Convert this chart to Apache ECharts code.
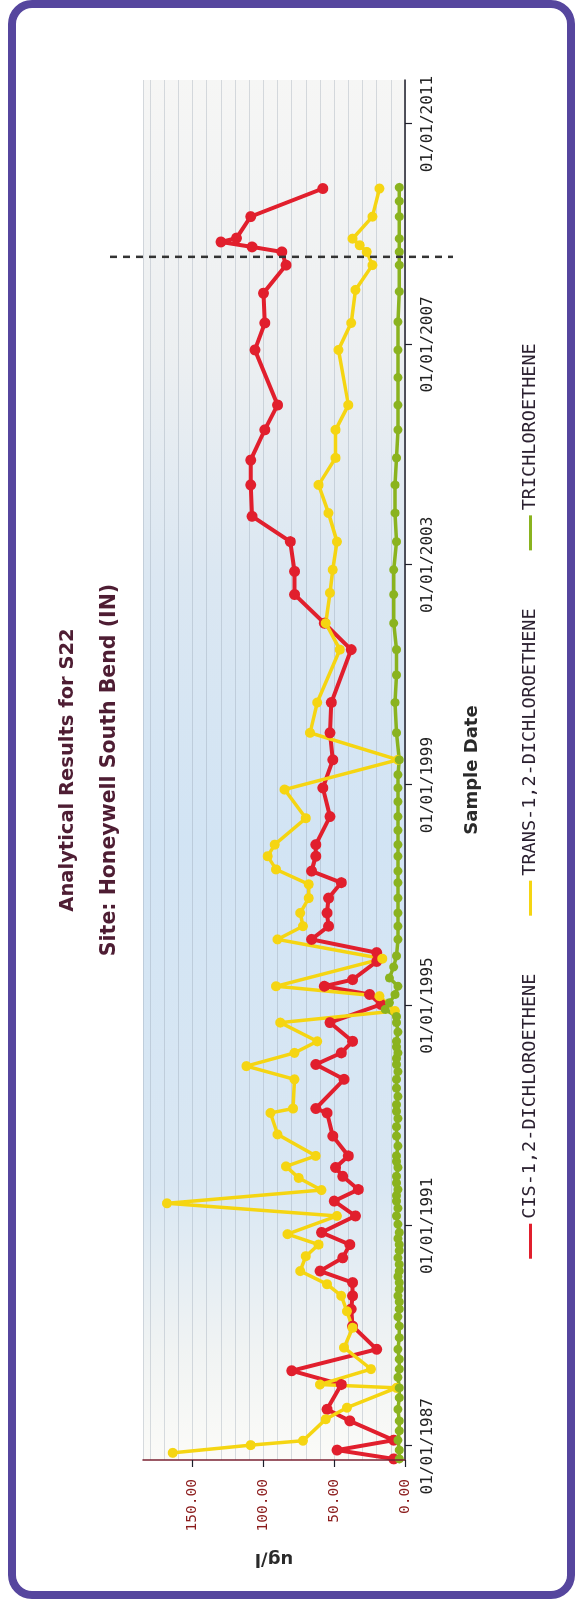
<!DOCTYPE html>
<html>
<head>
<meta charset="utf-8">
<script src="https://cdn.jsdelivr.net/npm/echarts@6/dist/echarts.min.js"></script>
<style>
html,body{margin:0;padding:0;background:#ffffff;width:577px;height:1602px;overflow:hidden;}
#chart{position:absolute;left:0;top:0;width:1602px;height:577px;transform-origin:0 0;transform:translate(0px,1602px) rotate(-90deg);}
</style>
</head>
<body>
<div id="chart"></div>
<script>
// ---- data (dates as decimal years) ----
const dateTicks = [1987, 1991, 1995, 1999, 2003, 2007, 2011];
const dateTickLabels = ['01/01/1987','01/01/1991','01/01/1995','01/01/1999','01/01/2003','01/01/2007','01/01/2011'];
const valueTicks = [0, 50, 100, 150];
const valueTickLabels = ['0.00','50.00','100.00','150.00'];
const seriesNames = ['CIS-1,2-DICHLOROETHENE','TRANS-1,2-DICHLOROETHENE','TRICHLOROETHENE'];
const markerDate = [2008.59];

const cisData = [
[1986.77,8],[1986.93,48],[1987.11,8],[1987.46,39],[1987.67,55],[1988.12,45],[1988.37,80],[1988.76,20],
[1989.18,37],[1989.49,38],[1989.73,37],[1989.97,37],[1990.18,60],[1990.42,44],[1990.66,39],[1990.88,59],
[1991.18,35],[1991.45,50],[1991.66,33],[1991.90,44],[1992.06,49],[1992.27,40],[1992.63,51],[1993.05,55],
[1993.13,63],[1993.66,43],[1993.93,63],[1994.14,45],[1994.35,37],[1994.69,53],[1995.02,17],[1995.20,25],
[1995.35,57],[1995.47,37],[1995.80,20],[1995.96,20],[1996.20,66],[1996.44,54],[1996.68,55],[1996.95,54],
[1997.23,45],[1997.44,66],[1997.71,63],[1997.92,63],[1998.43,53],[1998.95,58],[1999.46,51],[1999.95,53],
[2000.50,52],[2001.46,38],[2001.94,57],[2002.46,78],[2002.88,78],[2003.42,81],[2003.88,108],[2004.45,109],
[2004.90,109],[2005.45,99],[2005.90,90],[2006.90,106],[2007.39,99],[2007.93,100],[2008.44,84],[2008.68,87],
[2008.77,108],[2008.86,130],[2008.93,119],[2009.32,109],[2009.83,58]
];

const transData = [
[1986.88,164],[1987.02,109],[1987.10,72],[1987.49,56],[1987.70,41],[1988.06,6],[1988.12,60],[1988.40,24],
[1988.79,43],[1989.15,37],[1989.45,41],[1989.73,45],[1989.94,55],[1990.18,74],[1990.45,70],[1990.66,61],
[1990.85,83],[1991.18,48],[1991.41,168],[1991.65,59],[1991.87,75],[1992.08,84],[1992.27,63],[1992.66,90],
[1993.05,95],[1993.13,79],[1993.66,78],[1993.90,112],[1994.14,78],[1994.35,62],[1994.69,88],[1994.90,7],
[1995.17,18],[1995.35,91],[1995.85,16],[1996.20,90],[1996.44,72],[1996.68,74],[1996.95,68],[1997.20,68],
[1997.47,91],[1997.71,97],[1997.92,92],[1998.40,70],[1998.92,85],[1999.46,5],[1999.95,67],[2000.50,62],
[2001.46,46],[2001.94,56],[2002.49,53],[2002.91,51],[2003.42,48],[2003.94,54],[2004.45,61],[2004.94,49],
[2005.45,49],[2005.90,40],[2006.90,47],[2007.39,38],[2007.99,35],[2008.44,23],[2008.68,27],[2008.80,32],
[2008.92,37],[2009.32,23],[2009.83,18]
];

const triData = [
[1986.77,4],[1986.93,4],[1987.11,5],[1987.28,4],[1987.46,4],[1987.67,5],[1987.88,4],[1988.06,4],
[1988.25,5],[1988.40,4],[1988.58,4],[1988.76,5],[1988.97,4],[1989.18,4],[1989.35,5],[1989.49,4],
[1989.62,4],[1989.73,5],[1989.85,4],[1989.97,4],[1990.08,5],[1990.18,4],[1990.30,4],[1990.42,5],
[1990.55,4],[1990.66,4],[1990.77,5],[1990.88,4],[1991.03,5],[1991.18,6],[1991.32,5],[1991.45,6],
[1991.55,6],[1991.66,5],[1991.78,6],[1991.90,6],[1992.06,5],[1992.17,6],[1992.27,6],[1992.45,5],
[1992.63,6],[1992.80,6],[1992.95,5],[1993.08,6],[1993.20,6],[1993.35,5],[1993.50,6],[1993.66,6],
[1993.80,5],[1993.93,6],[1994.04,6],[1994.14,5],[1994.25,6],[1994.35,6],[1994.52,5],[1994.69,6],
[1994.80,6],[1994.93,14],[1995.05,11],[1995.20,7],[1995.35,5],[1995.50,11],[1995.70,8],[1995.90,6],
[1996.20,5],[1996.44,5],[1996.68,5],[1996.95,5],[1997.23,5],[1997.44,5],[1997.71,5],[1997.92,5],
[1998.18,5],[1998.43,5],[1998.70,5],[1998.95,5],[1999.19,5],[1999.46,4],[1999.95,6],[2000.50,7],
[2001.00,6],[2001.46,6],[2001.94,8],[2002.46,8],[2002.91,8],[2003.42,6],[2003.94,7],[2004.45,7],
[2004.94,6],[2005.45,5],[2005.90,5],[2006.40,5],[2006.90,5],[2007.41,5],[2007.96,4],[2008.44,4],
[2008.68,4],[2008.92,4],[2009.32,4],[2009.60,4],[2009.85,4]
];

const chart = echarts.init(document.getElementById('chart'), null, {renderer:'canvas'});

const monoFont = "'DejaVu Sans Mono', 'Liberation Mono', monospace";
const sansFont = "'DejaVu Sans', Verdana, sans-serif";
const colors = ['#e11f2d', '#f5d512', '#8ab31f'];

const option = {
  animation: false,
  backgroundColor: '#ffffff',
  title: [
    {text: 'Analytical Results for S22', left: 832, top: 58, textAlign: 'center', padding: 0,
     textStyle: {fontFamily: sansFont, fontWeight: 'bold', fontSize: 19.5, color: '#4e1d33'}},
    {text: 'Site: Honeywell South Bend (IN)', left: 832, top: 99, textAlign: 'center', padding: 0,
     textStyle: {fontFamily: sansFont, fontWeight: 'bold', fontSize: 20.5, color: '#4e1d33'}}
  ],
  legend: {
    data: seriesNames.map(n => ({name: n, icon: 'rect'})),
    left: 'center', top: 521, padding: 0,
    itemWidth: 35, itemHeight: 3, itemGap: 58,
    textStyle: {fontFamily: monoFont, fontSize: 18.5, color: '#2b2030'}
  },
  grid: {
    left: 142, right: 80, top: 143, bottom: 172, show: true, borderWidth: 0,
    backgroundColor: new echarts.graphic.LinearGradient(0, 0, 1, 0, [
      {offset: 0, color: '#fbfbf8'},
      {offset: 0.08, color: '#f0f3f3'},
      {offset: 0.2, color: '#d9e7f3'},
      {offset: 0.45, color: '#d2e4f4'},
      {offset: 0.64, color: '#dbe7f2'},
      {offset: 0.8, color: '#eceff1'},
      {offset: 1, color: '#f6f6f5'}
    ])
  },
  xAxis: {
    type: 'value', min: 1986.75, max: 2011.8, position: 'bottom',
    axisLine: {show: true, onZero: false, lineStyle: {color: '#1e1e2a', width: 1.5}},
    axisTick: {show: true, customValues: dateTicks, length: 7, lineStyle: {color: '#1e1e2a', width: 1.2}},
    axisLabel: {customValues: dateTicks, margin: 15,
      formatter: v => dateTickLabels[dateTicks.indexOf(Math.round(v))] || '',
      fontFamily: monoFont, fontSize: 16, color: '#222'},
    splitLine: {show: false},
    name: 'Sample Date', nameLocation: 'middle', nameGap: 58,
    nameTextStyle: {fontFamily: sansFont, fontWeight: 'bold', fontSize: 18, color: '#2a2a2a'}
  },
  yAxis: [
    {
      type: 'value', min: 0, max: 185, interval: 10, position: 'left', z: 4,
      axisLine: {show: true, onZero: false, lineStyle: {color: '#7a2232', width: 1.5}},
      axisTick: {show: true, customValues: valueTicks, length: 7, lineStyle: {color: '#1e1e2a', width: 1.2}},
      axisLabel: {customValues: valueTicks, margin: 19,
        formatter: v => valueTickLabels[valueTicks.indexOf(Math.round(v))] || '',
        fontFamily: monoFont, fontSize: 14.5, color: '#8b1c1c'},
      splitLine: {show: false},
      name: 'ug/l', nameLocation: 'middle', nameRotate: 90, nameGap: 90,
      nameTextStyle: {fontFamily: sansFont, fontWeight: 'bold', fontSize: 18, color: '#2a2a2a'}
    },
    {
      type: 'value', min: 0, max: 185, interval: 10, position: 'left', z: 0,
      axisLine: {show: false}, axisTick: {show: false}, axisLabel: {show: false},
      splitLine: {show: true, lineStyle: {color: 'rgba(140,152,168,0.32)', width: 1}}
    }
  ],
  graphic: [
    {type: 'rect', z: -10, silent: true,
     shape: {x: 7, y: 12, width: 1591, height: 559, r: 20},
     style: {fill: 'none', stroke: '#56469e', lineWidth: 8}}
  ],
  series: [
    {name: seriesNames[0], type: 'line', data: cisData, color: colors[0], yAxisIndex: 0,
     symbol: 'circle', symbolSize: 11, showSymbol: true,
     lineStyle: {width: 4, color: colors[0]}, itemStyle: {color: colors[0]}, z: 3},
    {name: seriesNames[1], type: 'line', data: transData, color: colors[1], yAxisIndex: 0,
     symbol: 'circle', symbolSize: 10, showSymbol: true,
     lineStyle: {width: 3.5, color: colors[1]}, itemStyle: {color: colors[1]}, z: 3},
    {name: seriesNames[2], type: 'line', data: triData, color: colors[2], yAxisIndex: 0,
     symbol: 'circle', symbolSize: 9, showSymbol: true,
     lineStyle: {width: 3.5, color: colors[2]}, itemStyle: {color: colors[2]}, z: 3},
    {name: 'marker', type: 'custom', clip: false, silent: true, z: 5, yAxisIndex: 0,
     data: markerDate.map(d => [d, 0]),
     renderItem: function (params, api) {
       const cs = params.coordSys;
       const p = api.coord([api.value(0), 0]);
       return {type: 'line',
         shape: {x1: p[0], y1: cs.y - 33, x2: p[0], y2: cs.y + cs.height + 48},
         style: {stroke: '#333333', lineWidth: 2.5, lineDash: [7, 6]}};
     }}
  ]
};
chart.setOption(option);
</script>
</body>
</html>
